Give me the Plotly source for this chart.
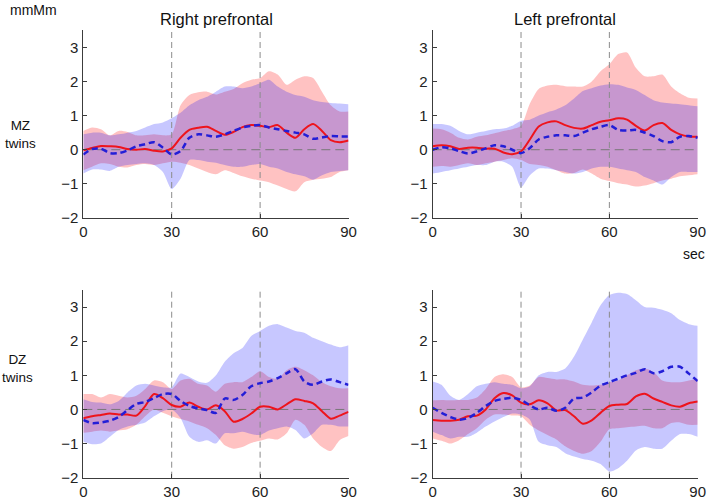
import plotly.graph_objects as go

# time grid (sec)
t = list(range(0, 91, 3))
events = [30, 60]
x_ticks = [0, 30, 60, 90]
y_ticks = [-2, -1, 0, 1, 2, 3]

# ---- MZ twins, right prefrontal ----
mzR_red_mean = [-0.02,0.05,0.11,0.10,0.08,0.02,0.00,0.02,-0.03,-0.05,0.04,0.35,0.58,0.64,0.67,0.55,0.44,0.52,0.66,0.72,0.70,0.66,0.72,0.50,0.35,0.60,0.75,0.55,0.28,0.22,0.27]
mzR_red_up = [0.55,0.65,0.60,0.42,0.55,0.52,0.42,0.42,0.45,0.42,0.45,1.30,1.60,1.68,1.70,1.62,1.70,1.78,1.95,2.05,2.10,2.30,2.20,1.90,2.05,2.15,2.10,1.70,1.30,1.12,1.12]
mzR_red_lo = [-0.60,-0.50,-0.40,-0.42,-0.50,-0.52,-0.45,-0.42,-0.45,-0.40,-0.35,-0.38,-0.45,-0.55,-0.65,-0.72,-0.60,-0.68,-0.78,-0.85,-0.90,-0.95,-1.05,-1.15,-1.22,-0.95,-0.88,-0.85,-0.80,-0.65,-0.60]
mzR_blue_mean = [-0.14,0.02,0.03,-0.10,-0.10,-0.02,0.10,0.16,0.22,0.06,-0.14,-0.04,0.35,0.45,0.42,0.38,0.45,0.55,0.65,0.70,0.72,0.65,0.60,0.55,0.50,0.45,0.32,0.36,0.40,0.39,0.39]
mzR_blue_up = [0.45,0.50,0.50,0.42,0.45,0.50,0.55,0.65,0.75,0.80,0.92,1.08,1.30,1.45,1.55,1.70,1.85,1.85,1.80,1.85,1.95,2.05,1.85,1.70,1.60,1.55,1.45,1.40,1.37,1.35,1.33]
mzR_blue_lo = [-0.70,-0.58,-0.58,-0.62,-0.50,-0.45,-0.42,-0.40,-0.45,-0.65,-1.15,-0.85,-0.30,-0.30,-0.35,-0.38,-0.45,-0.50,-0.50,-0.45,-0.42,-0.50,-0.55,-0.65,-0.72,-0.78,-0.88,-0.75,-0.65,-0.62,-0.60]

# ---- MZ twins, left prefrontal ----
mzL_red_mean = [0.10,0.13,0.10,0.02,0.06,0.06,0.03,0.03,-0.08,-0.13,-0.05,0.30,0.68,0.80,0.83,0.72,0.64,0.62,0.72,0.82,0.86,0.92,0.88,0.70,0.56,0.72,0.78,0.58,0.45,0.39,0.38]
mzL_red_up = [0.62,0.60,0.50,0.35,0.30,0.38,0.42,0.48,0.55,0.60,0.70,1.35,1.78,1.88,1.90,1.86,1.85,1.85,2.00,2.30,2.50,2.80,2.85,2.40,2.15,2.15,2.20,1.85,1.65,1.52,1.50]
mzL_red_lo = [-0.50,-0.48,-0.50,-0.45,-0.40,-0.45,-0.40,-0.35,-0.30,-0.25,-0.30,-0.42,-0.45,-0.50,-0.60,-0.70,-0.68,-0.58,-0.70,-0.85,-0.92,-0.98,-1.02,-1.08,-1.05,-0.98,-0.90,-0.85,-0.78,-0.75,-0.72]
mzL_blue_mean = [0.00,0.07,0.04,-0.04,-0.11,-0.05,0.04,0.13,0.10,0.00,-0.10,0.05,0.30,0.38,0.42,0.42,0.40,0.50,0.60,0.67,0.72,0.58,0.56,0.58,0.50,0.40,0.25,0.22,0.38,0.40,0.35]
mzL_blue_up = [0.75,0.75,0.70,0.55,0.45,0.50,0.55,0.60,0.62,0.70,0.85,0.88,1.00,1.10,1.18,1.30,1.50,1.72,1.80,1.88,1.92,1.90,1.82,1.75,1.60,1.45,1.38,1.35,1.33,1.30,1.27]
mzL_blue_lo = [-0.70,-0.65,-0.60,-0.55,-0.50,-0.45,-0.45,-0.35,-0.35,-0.50,-1.10,-0.75,-0.55,-0.55,-0.60,-0.65,-0.70,-0.65,-0.55,-0.50,-0.50,-0.55,-0.60,-0.65,-0.80,-0.90,-1.02,-0.80,-0.65,-0.65,-0.65]

# ---- DZ twins, right prefrontal ----
dzR_red_mean = [-0.26,-0.20,-0.16,-0.12,-0.15,-0.15,-0.18,0.10,0.45,0.33,0.13,0.08,0.20,0.08,0.00,0.12,-0.05,-0.36,-0.28,-0.12,0.08,0.08,0.00,0.15,0.30,0.25,0.18,-0.05,-0.27,-0.18,-0.07]
dzR_red_up = [0.45,0.45,0.35,0.45,0.40,0.35,0.40,0.60,0.85,0.80,0.60,0.85,0.90,0.75,0.70,0.52,0.75,0.80,0.80,0.95,1.12,0.95,0.90,1.15,1.25,1.15,1.00,0.80,0.68,0.62,0.62]
dzR_red_lo = [-0.68,-0.65,-0.62,-0.65,-0.62,-0.58,-0.45,-0.20,0.00,-0.10,-0.20,-0.28,-0.35,-0.45,-0.55,-0.75,-1.05,-1.15,-1.10,-0.98,-0.92,-0.85,-0.88,-0.70,-0.30,-0.45,-0.85,-1.10,-1.22,-0.90,-0.78]
dzR_blue_mean = [-0.31,-0.40,-0.38,-0.33,-0.22,-0.02,0.16,0.22,0.33,0.45,0.45,0.25,0.10,0.03,-0.02,-0.10,0.32,0.28,0.42,0.68,0.77,0.82,0.92,1.06,1.18,0.82,0.72,0.82,0.88,0.80,0.72]
dzR_blue_up = [0.30,0.22,0.20,0.15,0.25,0.50,0.70,0.75,0.70,0.65,0.65,1.05,0.95,0.82,0.78,1.00,1.40,1.65,1.80,2.15,2.30,2.45,2.50,2.40,2.30,2.25,2.10,2.00,1.90,1.82,1.88]
dzR_blue_lo = [-0.95,-1.02,-1.00,-0.80,-0.60,-0.50,-0.45,-0.38,-0.20,-0.05,0.00,-0.25,-0.80,-0.95,-0.90,-1.00,-0.70,-0.70,-0.65,-0.72,-0.75,-0.62,-0.55,-0.50,-0.60,-0.85,-0.70,-0.45,-0.45,-0.50,-0.50]

# ---- DZ twins, left prefrontal ----
dzL_red_mean = [-0.31,-0.33,-0.33,-0.30,-0.20,-0.18,0.00,0.33,0.48,0.41,0.20,0.15,0.27,0.18,-0.03,-0.02,-0.20,-0.42,-0.32,-0.10,0.10,0.14,0.16,0.38,0.46,0.32,0.22,0.12,0.08,0.18,0.23]
dzL_red_up = [0.27,0.28,0.27,0.28,0.28,0.35,0.60,0.95,1.03,0.95,0.65,0.70,0.95,0.92,0.88,0.88,0.82,0.72,0.70,0.72,0.80,0.85,1.00,1.15,1.20,1.10,0.85,0.80,0.80,0.85,0.90]
dzL_red_lo = [-0.85,-0.92,-1.00,-0.90,-0.72,-0.55,-0.30,-0.15,-0.15,-0.18,-0.20,-0.45,-0.62,-0.75,-0.88,-1.08,-1.22,-1.30,-1.22,-0.95,-0.58,-0.55,-0.52,-0.50,-0.48,-0.55,-0.55,-0.40,-0.38,-0.45,-0.45]
dzL_blue_mean = [0.05,-0.10,-0.22,-0.30,-0.25,-0.10,0.10,0.25,0.31,0.34,0.28,0.12,0.00,0.05,-0.04,0.05,0.32,0.35,0.50,0.70,0.80,0.90,1.00,1.07,1.18,1.06,1.12,1.25,1.25,1.05,0.83]
dzL_blue_up = [0.82,0.72,0.40,0.28,0.45,0.68,0.75,0.80,0.75,0.72,0.62,0.68,1.00,1.10,1.10,1.20,1.55,2.05,2.55,3.05,3.35,3.42,3.38,3.20,3.00,2.98,2.92,2.82,2.62,2.50,2.45]
dzL_blue_lo = [-0.65,-0.75,-0.85,-0.80,-0.80,-0.68,-0.50,-0.35,-0.22,-0.12,-0.15,-0.30,-0.95,-1.05,-1.10,-1.28,-1.38,-1.45,-1.50,-1.60,-1.82,-1.72,-1.50,-1.20,-1.10,-1.15,-1.15,-0.92,-0.72,-0.72,-0.80]

RED = "rgb(238,20,28)"
BLUE = "rgb(35,30,215)"
PINK_FILL = "rgba(255,0,0,0.24)"
LAV_FILL = "rgba(0,0,255,0.22)"
FONT = "Liberation Sans, Arial, sans-serif"

panels = [
    ("x", "y", (mzR_red_mean, mzR_red_lo, mzR_red_up), (mzR_blue_mean, mzR_blue_lo, mzR_blue_up)),
    ("x2", "y2", (mzL_red_mean, mzL_red_lo, mzL_red_up), (mzL_blue_mean, mzL_blue_lo, mzL_blue_up)),
    ("x3", "y3", (dzR_red_mean, dzR_red_lo, dzR_red_up), (dzR_blue_mean, dzR_blue_lo, dzR_blue_up)),
    ("x4", "y4", (dzL_red_mean, dzL_red_lo, dzL_red_up), (dzL_blue_mean, dzL_blue_lo, dzL_blue_up)),
]

fig = go.Figure()
for xa, ya, red, blue in panels:
    # bands
    for (mean, lo, up), fc in ((red, PINK_FILL), (blue, LAV_FILL)):
        fig.add_trace(go.Scatter(x=t, y=lo, mode="lines", xaxis=xa, yaxis=ya,
                                 line=dict(width=0, shape="spline", smoothing=0.7),
                                 showlegend=False, hoverinfo="skip"))
        fig.add_trace(go.Scatter(x=t, y=up, mode="lines", xaxis=xa, yaxis=ya,
                                 line=dict(width=0, shape="spline", smoothing=0.7),
                                 fill="tonexty", fillcolor=fc,
                                 showlegend=False, hoverinfo="skip"))
    # reference lines
    for ev in events:
        fig.add_trace(go.Scatter(x=[ev, ev], y=[-2, 3.5], mode="lines", xaxis=xa, yaxis=ya,
                                 line=dict(color="rgb(140,140,140)", width=1, dash="6px,4px"),
                                 showlegend=False, hoverinfo="skip"))
    fig.add_trace(go.Scatter(x=[0, 90], y=[0, 0], mode="lines", xaxis=xa, yaxis=ya,
                             line=dict(color="rgb(120,120,120)", width=1, dash="9px,5px"),
                             showlegend=False, hoverinfo="skip"))
    # mean lines
    fig.add_trace(go.Scatter(x=t, y=red[0], mode="lines", xaxis=xa, yaxis=ya,
                             line=dict(color=RED, width=2, shape="spline", smoothing=0.8),
                             showlegend=False))
    fig.add_trace(go.Scatter(x=t, y=blue[0], mode="lines", xaxis=xa, yaxis=ya,
                             line=dict(color=BLUE, width=2.5, shape="spline", smoothing=0.8, dash="6px,4px"),
                             showlegend=False))

W, H = 709, 497
xdom = [[83.3 / W, 348.5 / W], [432.7 / W, 697.7 / W]]
ydom = [[1 - 218 / H, 1 - 30.2 / H], [1 - 477.7 / H, 1 - 290 / H]]

axis_common = dict(showline=True, linecolor="rgb(60,60,60)", linewidth=1, ticks="inside",
                   ticklen=4, tickcolor="rgb(60,60,60)", showgrid=False, zeroline=False,
                   tickfont=dict(family=FONT, size=15, color="#222"), fixedrange=True,
                   automargin=False)

layout_axes = {}
for i in range(4):
    r, c = divmod(i, 2)
    sfx = "" if i == 0 else str(i + 1)
    layout_axes["xaxis" + sfx] = dict(axis_common, domain=xdom[c], range=[0, 90],
                                      tickvals=x_ticks, anchor="y" + sfx, ticklabelstandoff=0)
    layout_axes["yaxis" + sfx] = dict(axis_common, domain=ydom[r], range=[-2, 3.5],
                                      tickvals=y_ticks, anchor="x" + sfx, ticklabelstandoff=1)

def ann(text, x, y, size=15, xanchor="center"):
    return dict(text=text, x=x / W, y=1 - y / H, xref="paper", yref="paper",
                showarrow=False, xanchor=xanchor, yanchor="middle",
                font=dict(family=FONT, size=size, color="#111"))

annotations = [
    ann("mmMm", 8, 10, 14, "left"),
    ann("Right prefrontal", 216, 19, 16.5),
    ann("Left prefrontal", 565, 19, 16.5),
    ann("MZ<br>twins", 20, 134, 13.5),
    ann("DZ<br>twins", 17, 368, 13.5),
    ann("sec", 694, 254, 14),
]

fig.update_layout(width=W, height=H, autosize=False,
                  margin=dict(l=0, r=0, t=0, b=0, autoexpand=False),
                  paper_bgcolor="white", plot_bgcolor="white", showlegend=False,
                  annotations=annotations, **layout_axes)

# remove the browser's default 8px page margin so the figure fills the window
fig.write_html("out.html", config={"displayModeBar": False},
               post_script="document.body.style.margin='0px';")
